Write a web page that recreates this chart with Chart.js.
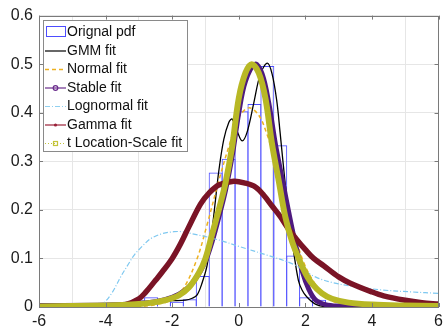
<!DOCTYPE html>
<html>
<head>
<meta charset="utf-8">
<script src="https://cdn.jsdelivr.net/npm/chart.js@4.4.1/dist/chart.umd.min.js"></script>
<style>
  html, body { margin: 0; padding: 0; background: #fff; }
  #wrap { width: 448px; height: 335px; position: relative; }
</style>
</head>
<body>
<div id="wrap"><canvas id="pdfChart"></canvas></div>
<script>
// Histogram (original pdf)
const binCenters = [-4.575, -3.023, -2.635, -2.247, -1.859, -1.471, -1.083, -0.695, -0.306, 0.082, 0.470, 0.858, 1.246, 1.634, 2.022, 2.410, 4.738];
const binHeights = [0.007, 0.014, 0.020, 0.014, 0.011, 0.016, 0.064, 0.277, 0.305, 0.403, 0.418, 0.496, 0.333, 0.106, 0.020, 0.015, 0.007];

// GMM fit
const gmmX = [-6, -4, -3.5, -3, -2.5, -2, -1.6, -1.4, -1.25, -1.1, -0.95, -0.8, -0.7, -0.6, -0.45, -0.3, -0.2, -0.05, 0.1, 0.25, 0.45, 0.65, 0.86, 1.0, 1.14, 1.24, 1.4, 1.55, 1.64, 1.79, 1.9, 2.04, 2.3, 2.6, 6];
const gmmY = [0.0, 0.001, 0.003, 0.008, 0.012, 0.013, 0.014, 0.018, 0.025, 0.05, 0.086, 0.16, 0.22, 0.28, 0.345, 0.38, 0.387, 0.362, 0.342, 0.36, 0.42, 0.48, 0.502, 0.48, 0.425, 0.36, 0.25, 0.16, 0.117, 0.055, 0.035, 0.021, 0.006, 0.001, 0.0];

// Normal fit
const normalX = [-6, -3, -2.5, -2.05, -1.65, -1.25, -0.95, -0.6, -0.3, 0.0, 0.3, 0.6, 0.85, 1.05, 1.3, 1.64, 1.93, 2.25, 2.6, 3.0, 3.5, 6];
const normalY = [0.0, 0.001, 0.005, 0.014, 0.04, 0.10, 0.17, 0.26, 0.33, 0.39, 0.41, 0.395, 0.355, 0.31, 0.25, 0.16, 0.095, 0.052, 0.022, 0.007, 0.001, 0.0];

// Stable fit
const stableX = [-6, -4, -3, -2.5, -2, -1.6, -1.3, -1.0, -0.8, -0.6, -0.4, -0.2, 0.0, 0.2, 0.49, 0.7, 0.9, 1.1, 1.3, 1.5, 1.7, 1.9, 2.1, 2.3, 2.6, 3, 4, 6];
const stableY = [0.003, 0.004, 0.007, 0.011, 0.02, 0.035, 0.058, 0.095, 0.135, 0.185, 0.24, 0.31, 0.40, 0.465, 0.50, 0.48, 0.42, 0.335, 0.265, 0.195, 0.13, 0.075, 0.037, 0.015, 0.005, 0.002, 0.001, 0.001];

// Lognormal fit
const lognX = [-6, -4.2, -4.05, -3.8, -3.54, -3.3, -3.14, -2.9, -2.64, -2.3, -1.95, -1.7, -1.35, -1.0, -0.55, 0.04, 0.84, 1.64, 2.3, 2.83, 3.5, 4.32, 5.2, 6];
const lognY = [0.0, 0.0, 0.008, 0.03, 0.063, 0.09, 0.107, 0.125, 0.141, 0.151, 0.155, 0.155, 0.150, 0.145, 0.137, 0.124, 0.107, 0.088, 0.062, 0.050, 0.042, 0.035, 0.031, 0.028];

// Gamma fit
const gammaX = [-6, -4, -3.4, -3.0, -2.8, -2.5, -2.3, -2.0, -1.75, -1.5, -1.15, -0.9, -0.6, -0.15, 0.2, 0.5, 0.75, 1.0, 1.25, 1.45, 1.75, 2.0, 2.25, 2.55, 3.0, 3.35, 4.0, 4.35, 5.0, 5.5, 6];
const gammaY = [0.0, 0.001, 0.005, 0.017, 0.03, 0.055, 0.072, 0.100, 0.13, 0.165, 0.212, 0.234, 0.251, 0.259, 0.255, 0.247, 0.23, 0.208, 0.186, 0.165, 0.138, 0.118, 0.10, 0.085, 0.062, 0.049, 0.031, 0.023, 0.014, 0.009, 0.006];

// t Location-Scale fit
const tlsX = [-6, -5, -4, -3.5, -3, -2.6, -2.2, -1.8, -1.5, -1.2, -1.0, -0.8, -0.6, -0.4, -0.2, 0.0, 0.2, 0.39, 0.6, 0.8, 1.0, 1.2, 1.4, 1.6, 1.8, 2.0, 2.2, 2.5, 2.8, 3.3, 4, 5, 6];
const tlsY = [0.001, 0.002, 0.003, 0.004, 0.006, 0.009, 0.014, 0.024, 0.04, 0.07, 0.10, 0.15, 0.20, 0.255, 0.33, 0.43, 0.482, 0.50, 0.482, 0.43, 0.335, 0.26, 0.185, 0.135, 0.10, 0.07, 0.048, 0.028, 0.017, 0.009, 0.005, 0.003, 0.002];

const legendLabels = ['Orignal pdf', 'GMM fit', 'Normal fit', 'Stable fit', 'Lognormal fit', 'Gamma fit', 't Location-Scale fit'];
const xTicks = [-6, -4, -2, 0, 2, 4, 6];
const yTicks = [0, 0.1, 0.2, 0.3, 0.4, 0.5, 0.6];

const toPoints = (xs, ys) => xs.map((x, i) => ({ x: x, y: ys[i] }));

function curve(label, xs, ys, color, width, order, dash) {
    return {
        type: 'line',
        label: label,
        data: toPoints(xs, ys),
        borderColor: color,
        borderWidth: width,
        borderDash: dash || [],
        pointRadius: 0,
        fill: false,
        tension: 0.35,
        order: order
    };
}

// Legend box drawn inside the plot, plus axes box with inward ticks
const boxPlugin = {
    id: 'boxPlugin',
    afterDraw(chart) {
        const ctx = chart.ctx;
        const a = chart.chartArea;
        const xs = chart.scales.x, ys = chart.scales.y;

        ctx.save();
        ctx.strokeStyle = '#7a7a7a';
        ctx.lineWidth = 1;
        ctx.strokeRect(Math.round(a.left) + 0.5, Math.round(a.top) + 0.5, Math.round(a.right - a.left) - 1, Math.round(a.bottom - a.top));
        ctx.beginPath();
        xTicks.forEach(v => {
            const px = Math.round(xs.getPixelForValue(v)) + 0.5;
            ctx.moveTo(px, a.bottom); ctx.lineTo(px, a.bottom - 4);
            ctx.moveTo(px, a.top); ctx.lineTo(px, a.top + 4);
        });
        yTicks.forEach(v => {
            const py = Math.round(ys.getPixelForValue(v)) + 0.5;
            ctx.moveTo(a.left, py); ctx.lineTo(a.left + 4, py);
            ctx.moveTo(a.right, py); ctx.lineTo(a.right - 4, py);
        });
        ctx.stroke();

        // legend
        const bx = 43.5, by = 20.5, bw = 144, bh = 131;
        ctx.fillStyle = '#fff';
        ctx.fillRect(bx, by, bw, bh);
        ctx.strokeStyle = '#8a8a8a';
        ctx.strokeRect(bx, by, bw, bh);

        ctx.font = '14px "Liberation Sans", Arial, sans-serif';
        ctx.textBaseline = 'middle';
        ctx.fillStyle = '#111';
        const x0 = 45, x1 = 66, xm = 55.5;
        const styles = [
            null,
            { c: '#000', d: [], w: 1.2 },
            { c: '#EDB120', d: [4, 3], w: 1.5 },
            { c: '#6a2c8c', d: [], w: 1.2 },
            { c: '#8fd0f0', d: [5, 2, 1, 2], w: 1.2 },
            { c: '#9a2038', d: [], w: 1.2 },
            { c: '#c4c43a', d: [1, 2], w: 1.2 }
        ];
        legendLabels.forEach((txt, i) => {
            const y = 32 + i * 18.5;
            ctx.setLineDash([]);
            ctx.lineWidth = 1;
            if (i === 0) {
                ctx.strokeStyle = '#4d4dff';
                ctx.strokeRect(46.5, y - 5.5, 19, 10);
            } else {
                const s = styles[i];
                ctx.strokeStyle = s.c;
                ctx.lineWidth = s.w;
                ctx.setLineDash(s.d);
                ctx.beginPath();
                ctx.moveTo(x0, y + 0.5); ctx.lineTo(x1, y + 0.5);
                ctx.stroke();
                ctx.setLineDash([]);
                if (i === 3) {
                    ctx.beginPath(); ctx.arc(xm, y + 0.5, 2.3, 0, Math.PI * 2); ctx.stroke();
                } else if (i === 5) {
                    ctx.fillStyle = s.c;
                    ctx.beginPath(); ctx.arc(xm, y + 0.5, 1.6, 0, Math.PI * 2); ctx.fill();
                } else if (i === 6) {
                    ctx.strokeRect(xm - 2, y - 1.5, 4, 4);
                }
            }
            ctx.fillStyle = '#111';
            ctx.fillText(txt, 67, y + 0.5);
        });
        ctx.restore();
    }
};

Chart.defaults.font.family = '"Liberation Sans", Arial, Helvetica, sans-serif';
Chart.defaults.color = '#1a1a1a';

const ctx = document.getElementById('pdfChart').getContext('2d');
const pdfChart = new Chart(ctx, {
    type: 'line',
    data: {
        datasets: [
            {
                type: 'bar',
                label: 'Orignal pdf',
                data: toPoints(binCenters, binHeights),
                backgroundColor: 'rgba(0,0,0,0)',
                borderColor: '#4d4dff',
                borderWidth: 1,
                barPercentage: 1.077,
                categoryPercentage: 1,
                order: 7
            },
            curve('GMM fit', gmmX, gmmY, '#000000', 1.3, 6),
            curve('Normal fit', normalX, normalY, '#EDB120', 1.5, 5, [4, 3]),
            curve('Stable fit', stableX, stableY, '#4e1a7e', 5, 4),
            curve('Lognormal fit', lognX, lognY, '#7ec8f0', 1.2, 3, [5, 2, 1, 2]),
            curve('Gamma fit', gammaX, gammaY, '#7a1426', 5.5, 2),
            curve('t Location-Scale fit', tlsX, tlsY, '#b8b825', 6, 1)
        ]
    },
    options: {
        responsive: true,
        maintainAspectRatio: false,
        animation: false,
        layout: { padding: { top: 15, right: 8, left: 0, bottom: 0 } },
        plugins: {
            legend: { display: false },
            tooltip: { enabled: false }
        },
        scales: {
            x: {
                type: 'linear',
                min: -6,
                max: 6,
                offset: false,
                afterFit: s => { s.height = 28; },
                afterBuildTicks: s => { s.ticks = xTicks.map(v => ({ value: v })); },
                grid: { color: '#e6e6e6', drawTicks: false },
                border: { display: false },
                ticks: { font: { size: 16 }, padding: 5, maxRotation: 0 }
            },
            y: {
                min: 0,
                max: 0.6,
                afterFit: s => { s.width = 39; },
                afterBuildTicks: s => { s.ticks = yTicks.map(v => ({ value: v })); },
                grid: { color: '#e6e6e6', drawTicks: false },
                border: { display: false },
                ticks: { font: { size: 16 }, padding: 6 }
            }
        }
    },
    plugins: [boxPlugin]
});
</script>
</body>
</html>
